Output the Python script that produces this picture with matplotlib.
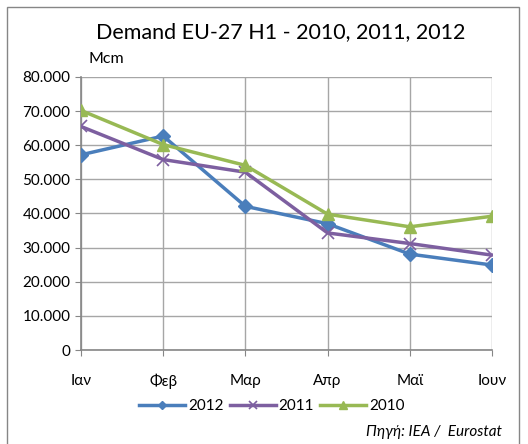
import matplotlib
matplotlib.use('Agg')
import matplotlib.pyplot as plt
from matplotlib.patches import Rectangle
from matplotlib.ticker import FuncFormatter

# Data (Mcm)
months = ['Ιαν', 'Φεβ', 'Μαρ', 'Απρ', 'Μαϊ', 'Ιουν']
demand_2012 = [57200, 62700, 42100, 37000, 28100, 24900]
demand_2011 = [65500, 55800, 52100, 34300, 31200, 27800]
demand_2010 = [70200, 60200, 54100, 39800, 36100, 39200]

plt.rcParams['font.family'] = ['Lato', 'DejaVu Sans']

fig = plt.figure(figsize=(5.28, 4.44), dpi=100)
ax = fig.add_axes([81/528, 1 - 350/444, (492 - 81)/528, (350 - 77)/444])

x = range(len(months))
ax.plot(x, demand_2012, color='#4a7ebb', lw=2.5, marker='D', ms=7, label='2012', zorder=3)
ax.plot(x, demand_2011, color='#7d5fa0', lw=2.5, marker='x', ms=9, mew=1.2, label='2011', zorder=3)
ax.plot(x, demand_2010, color='#98b954', lw=2.5, marker='^', ms=9, label='2010', zorder=3)

ax.set_xlim(0, len(months) - 1)
ax.set_ylim(0, 80000)
ax.set_yticks(range(0, 80001, 10000))
ax.yaxis.set_major_formatter(FuncFormatter(lambda v, p: '0' if v == 0 else f'{int(v):,}'.replace(',', '.')))
ax.set_xticks(list(x))
ax.set_xticklabels(months)
ax.tick_params(axis='both', labelsize=11, colors='#000000', length=4, color='#868686')
ax.tick_params(axis='x', pad=13)
ax.grid(True, color='#a6a6a6', lw=1)
ax.set_axisbelow(True)
for s in ['top', 'right']:
    ax.spines[s].set_visible(False)
for s in ['left', 'bottom']:
    ax.spines[s].set_color('#868686')
    ax.spines[s].set_linewidth(1.2)

fig.text(281/528, 1 - 32/444, 'Demand EU-27 H1 - 2010, 2011, 2012', ha='center', va='center', fontsize=15.5)
fig.text(88/528, 1 - 59/444, 'Mcm', ha='left', va='center', fontsize=11.5)

fig.legend(loc='center', bbox_to_anchor=(272/528, 1 - 406/444), ncol=3, frameon=False,
           fontsize=11, handlelength=3.0, columnspacing=0.4, handletextpad=0.2, markerscale=0.6)
fig.text(502/528, 1 - 432/444, 'Πηγή: IEA /  Eurostat', ha='right', va='center',
         fontsize=11, style='italic')

fig.patches.append(Rectangle((7/528, -0.05), 512/528, 0.05 + 437/444, transform=fig.transFigure,
                             fill=False, edgecolor='#868686', lw=1))

fig.savefig('out.png', dpi=100)
